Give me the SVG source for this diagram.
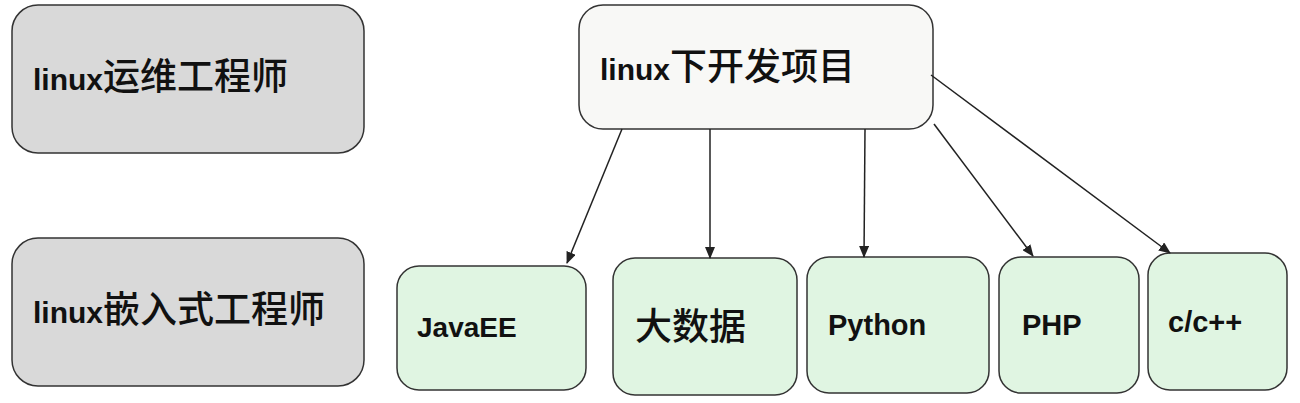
<svg xmlns="http://www.w3.org/2000/svg" width="1300" height="403" viewBox="0 0 1300 403">
<defs>
<marker id="arr" markerWidth="12" markerHeight="10" refX="11" refY="5" orient="auto" markerUnits="userSpaceOnUse">
<path d="M0,0 L12,5 L0,10 Z" fill="#222"/>
</marker>
<style>
.box{stroke:#333;stroke-width:1.5}
.gray{fill:#d9d9d9}
.white{fill:#f8f8f6}
.green{fill:#e0f5e2}
.lat{font-family:"Liberation Sans",Arial,"Noto Sans CJK SC",sans-serif;font-weight:bold;font-size:29px;fill:#111}
.big{font-size:30px}
.cjk{font-family:"Noto Sans CJK SC",sans-serif;font-weight:500;font-size:37px}
.edge{stroke:#222;stroke-width:1.5;fill:none;marker-end:url(#arr)}
</style>
</defs>
<rect width="1300" height="403" fill="#ffffff"/>
<g id="node-yunwei">
<rect class="box gray" x="12" y="5" width="352" height="148" rx="26"/>
<text class="lat big" x="33" y="90">linux<tspan class="cjk">运维工程师</tspan></text>
</g>
<g id="node-qianru">
<rect class="box gray" x="12" y="238" width="352" height="148" rx="26"/>
<text class="lat big" x="33" y="323">linux<tspan class="cjk">嵌入式工程师</tspan></text>
</g>
<g id="node-kaifa">
<rect class="box white" x="579" y="5" width="354" height="124" rx="24"/>
<text class="lat big" x="600" y="80">linux<tspan class="cjk">下开发项目</tspan></text>
</g>
<g id="node-javaee">
<rect class="box green" x="397" y="266" width="189" height="124" rx="22"/>
<text class="lat" x="417" y="337" style="font-size:28px">JavaEE</text>
</g>
<g id="node-bigdata">
<rect class="box green" x="613" y="258" width="184" height="137" rx="22"/>
<text class="lat" x="635" y="340"><tspan class="cjk">大数据</tspan></text>
</g>
<g id="node-python">
<rect class="box green" x="807" y="257" width="182" height="136" rx="22"/>
<text class="lat" x="828" y="335">Python</text>
</g>
<g id="node-php">
<rect class="box green" x="999" y="257" width="140" height="136" rx="22"/>
<text class="lat" x="1022" y="335">PHP</text>
</g>
<g id="node-cpp">
<rect class="box green" x="1148" y="253" width="139" height="137" rx="22"/>
<text class="lat" x="1168" y="332">c/c++</text>
</g>
<g id="connectors">
<line class="edge" x1="622" y1="129" x2="567" y2="263"/>
<line class="edge" x1="710" y1="129" x2="710" y2="258"/>
<line class="edge" x1="865" y1="129" x2="864" y2="257"/>
<line class="edge" x1="934" y1="124" x2="1033" y2="256"/>
<line class="edge" x1="931" y1="75" x2="1170" y2="253"/>
</g>
</svg>
